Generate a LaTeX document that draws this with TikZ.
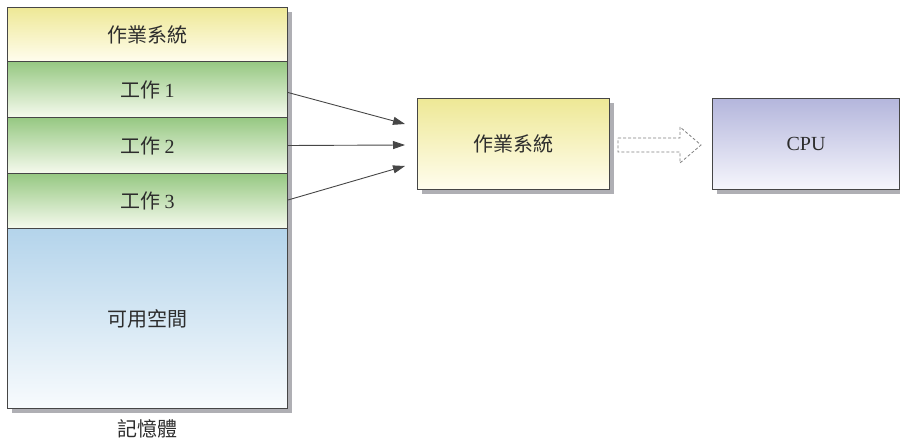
\documentclass[tikz,border=0pt]{standalone}
\usepackage{fontspec}
\setmainfont{Liberation Serif}
\newfontfamily\cjk{Noto Sans CJK TC}
\usetikzlibrary{arrows.meta}
\definecolor{edge}{RGB}{70,70,70}
\definecolor{txt}{RGB}{45,45,45}
\definecolor{shadowc}{RGB}{175,175,180}
\definecolor{ostop}{RGB}{238,232,150}
\definecolor{osbot}{RGB}{255,253,238}
\definecolor{jobtop}{RGB}{150,200,130}
\definecolor{jobbot}{RGB}{246,250,238}
\definecolor{freetop}{RGB}{180,212,235}
\definecolor{freebot}{RGB}{248,251,253}
\definecolor{cputop}{RGB}{180,182,220}
\definecolor{cpubot}{RGB}{246,246,252}
\tikzset{
  x=1pt, y=-1pt,
  cell/.style={draw=edge, line width=1pt, minimum width=280pt, inner sep=0pt, text=txt, font=\fontsize{20}{20}\selectfont},
  box/.style={draw=edge, line width=1pt, inner sep=0pt, text=txt, font=\fontsize{20}{20}\selectfont},
  conn/.style={draw=edge, line width=0.9pt, -{Triangle[length=12pt,width=8pt]}},
  hollow/.style={draw=gray, densely dashed, line width=0.8pt, fill=white},
}
\begin{document}
\begin{tikzpicture}
\useasboundingbox (0,0) rectangle (900,443);
% shadows
\fill[shadowc] (12,12) rectangle (292,413);
\fill[shadowc] (422,103) rectangle (614,194);
\fill[shadowc] (717,103) rectangle (903,194);
% memory cells
\node[cell, minimum height=54pt, top color=ostop, bottom color=osbot, anchor=north west] (os) at (7,7) {\cjk 作業系統};
\node[cell, minimum height=56pt, top color=jobtop, bottom color=jobbot, anchor=north west] (j1) at (7,61) {\cjk 工作\ \rmfamily 1};
\node[cell, minimum height=56pt, top color=jobtop, bottom color=jobbot, anchor=north west] (j2) at (7,117) {\cjk 工作\ \rmfamily 2};
\node[cell, minimum height=55pt, top color=jobtop, bottom color=jobbot, anchor=north west] (j3) at (7,173) {\cjk 工作\ \rmfamily 3};
\node[cell, minimum height=180pt, top color=freetop, bottom color=freebot, anchor=north west] (free) at (7,228) {\cjk 可用空間};
\node[text=txt, font=\fontsize{20}{20}\selectfont\cjk] (mem) at (147,429) {記憶體};
% OS box and CPU
\node[box, minimum width=192pt, minimum height=91pt, top color=ostop, bottom color=osbot, anchor=north west] (sys) at (417,98) {\cjk 作業系統};
\node[box, minimum width=187pt, minimum height=91pt, top color=cputop, bottom color=cpubot, anchor=north west] (cpu) at (712,98) {CPU};
% connectors
\coordinate (t1) at (405,124);
\coordinate (t2) at (405,145);
\coordinate (t3) at (405,166);
\draw[conn] (j1.east) ++(0,3) -- (t1);
\draw[conn] (j2.east) -- (t2);
\draw[conn] (j3.east) ++(0,-1) -- (t3);
% hollow arrow
\draw[hollow] (618,138) -- (680,138) -- (680,127) -- (701,145) -- (680,163) -- (680,152) -- (618,152) -- cycle;
\end{tikzpicture}
\end{document}
